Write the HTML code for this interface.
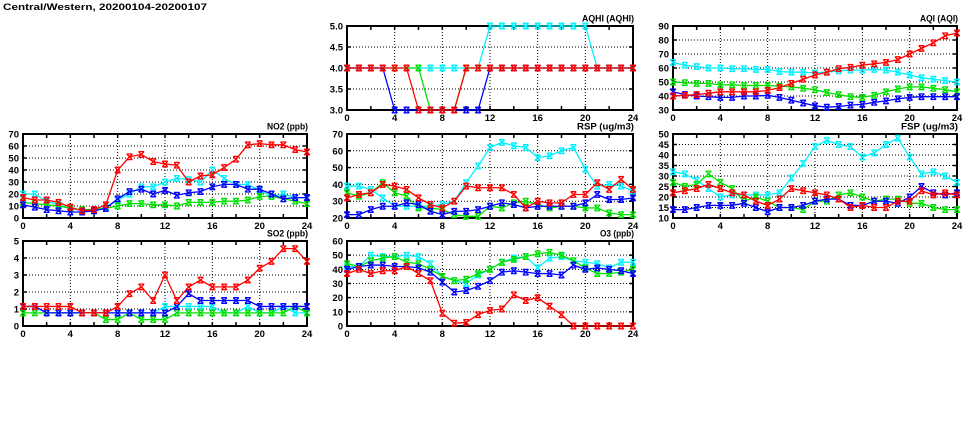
<!DOCTYPE html>
<html><head><meta charset="utf-8">
<style>
html,body{margin:0;padding:0;background:#fff;}
svg{display:block;}
text{font-family:"Liberation Sans",Arial,sans-serif;font-weight:bold;font-size:9.5px;fill:#000;}
.yl{text-anchor:end;}
.xl{text-anchor:middle;}
.tt{text-anchor:end;font-size:9.5px;}
.grid{fill:none;stroke:#000;stroke-width:1;stroke-dasharray:1 2;}
.frame{fill:none;stroke:#000;stroke-width:2;}
.tk{fill:none;stroke:#000;stroke-width:4;}
.ln{fill:none;stroke-width:1.3;vector-effect:non-scaling-stroke;stroke-linejoin:round;}
.mk{fill:none;stroke:none;}
.c{stroke:#00f0ff;} .g{stroke:#00e000;} .b{stroke:#0000ff;} .r{stroke:#ff0000;}
</style></head>
<body>
<svg width="975" height="447" viewBox="0 0 975 447" xmlns="http://www.w3.org/2000/svg">
<defs>
<!-- chart 1 AQHI -->
<marker id="m1c" markerUnits="userSpaceOnUse" markerWidth="0.6713" markerHeight="0.19048" viewBox="-4 -4 8 8" preserveAspectRatio="none" overflow="visible"><path d="M-2.8,-2.8L2.8,2.8M2.8,-2.8L-2.8,2.8M-2.8,-2.8H2.8M-2.8,2.8H2.8" stroke="#00f0ff" stroke-width="1.3" fill="none"/></marker>
<marker id="m1g" markerUnits="userSpaceOnUse" markerWidth="0.6713" markerHeight="0.19048" viewBox="-4 -4 8 8" preserveAspectRatio="none" overflow="visible"><path d="M-2.8,-2.8L2.8,2.8M2.8,-2.8L-2.8,2.8M-2.8,-2.8H2.8M-2.8,2.8H2.8" stroke="#00e000" stroke-width="1.3" fill="none"/></marker>
<marker id="m1b" markerUnits="userSpaceOnUse" markerWidth="0.6713" markerHeight="0.19048" viewBox="-4 -4 8 8" preserveAspectRatio="none" overflow="visible"><path d="M-2.8,-2.8L2.8,2.8M2.8,-2.8L-2.8,2.8M-2.8,-2.8H2.8M-2.8,2.8H2.8" stroke="#0000ff" stroke-width="1.3" fill="none"/></marker>
<marker id="m1r" markerUnits="userSpaceOnUse" markerWidth="0.6713" markerHeight="0.19048" viewBox="-4 -4 8 8" preserveAspectRatio="none" overflow="visible"><path d="M-2.8,-2.8L2.8,2.8M2.8,-2.8L-2.8,2.8M-2.8,-2.8H2.8M-2.8,2.8H2.8" stroke="#ff0000" stroke-width="1.3" fill="none"/></marker>
<!-- chart 2 AQI -->
<marker id="m2c" markerUnits="userSpaceOnUse" markerWidth="0.6761" markerHeight="5.7143" viewBox="-4 -4 8 8" preserveAspectRatio="none" overflow="visible"><path d="M-2.8,-2.8L2.8,2.8M2.8,-2.8L-2.8,2.8M-2.8,-2.8H2.8M-2.8,2.8H2.8" stroke="#00f0ff" stroke-width="1.3" fill="none"/></marker>
<marker id="m2g" markerUnits="userSpaceOnUse" markerWidth="0.6761" markerHeight="5.7143" viewBox="-4 -4 8 8" preserveAspectRatio="none" overflow="visible"><path d="M-2.8,-2.8L2.8,2.8M2.8,-2.8L-2.8,2.8M-2.8,-2.8H2.8M-2.8,2.8H2.8" stroke="#00e000" stroke-width="1.3" fill="none"/></marker>
<marker id="m2b" markerUnits="userSpaceOnUse" markerWidth="0.6761" markerHeight="5.7143" viewBox="-4 -4 8 8" preserveAspectRatio="none" overflow="visible"><path d="M-2.8,-2.8L2.8,2.8M2.8,-2.8L-2.8,2.8M-2.8,-2.8H2.8M-2.8,2.8H2.8" stroke="#0000ff" stroke-width="1.3" fill="none"/></marker>
<marker id="m2r" markerUnits="userSpaceOnUse" markerWidth="0.6761" markerHeight="5.7143" viewBox="-4 -4 8 8" preserveAspectRatio="none" overflow="visible"><path d="M-2.8,-2.8L2.8,2.8M2.8,-2.8L-2.8,2.8M-2.8,-2.8H2.8M-2.8,2.8H2.8" stroke="#ff0000" stroke-width="1.3" fill="none"/></marker>
<!-- chart 3 NO2 -->
<marker id="m3c" markerUnits="userSpaceOnUse" markerWidth="0.6761" markerHeight="6.6667" viewBox="-4 -4 8 8" preserveAspectRatio="none" overflow="visible"><path d="M-2.8,-2.8L2.8,2.8M2.8,-2.8L-2.8,2.8M-2.8,-2.8H2.8M-2.8,2.8H2.8" stroke="#00f0ff" stroke-width="1.3" fill="none"/></marker>
<marker id="m3g" markerUnits="userSpaceOnUse" markerWidth="0.6761" markerHeight="6.6667" viewBox="-4 -4 8 8" preserveAspectRatio="none" overflow="visible"><path d="M-2.8,-2.8L2.8,2.8M2.8,-2.8L-2.8,2.8M-2.8,-2.8H2.8M-2.8,2.8H2.8" stroke="#00e000" stroke-width="1.3" fill="none"/></marker>
<marker id="m3b" markerUnits="userSpaceOnUse" markerWidth="0.6761" markerHeight="6.6667" viewBox="-4 -4 8 8" preserveAspectRatio="none" overflow="visible"><path d="M-2.8,-2.8L2.8,2.8M2.8,-2.8L-2.8,2.8M-2.8,-2.8H2.8M-2.8,2.8H2.8" stroke="#0000ff" stroke-width="1.3" fill="none"/></marker>
<marker id="m3r" markerUnits="userSpaceOnUse" markerWidth="0.6761" markerHeight="6.6667" viewBox="-4 -4 8 8" preserveAspectRatio="none" overflow="visible"><path d="M-2.8,-2.8L2.8,2.8M2.8,-2.8L-2.8,2.8M-2.8,-2.8H2.8M-2.8,2.8H2.8" stroke="#ff0000" stroke-width="1.3" fill="none"/></marker>
<!-- chart 4 RSP -->
<marker id="m4c" markerUnits="userSpaceOnUse" markerWidth="0.6713" markerHeight="4.7619" viewBox="-4 -4 8 8" preserveAspectRatio="none" overflow="visible"><path d="M-2.8,-2.8L2.8,2.8M2.8,-2.8L-2.8,2.8M-2.8,-2.8H2.8M-2.8,2.8H2.8" stroke="#00f0ff" stroke-width="1.3" fill="none"/></marker>
<marker id="m4g" markerUnits="userSpaceOnUse" markerWidth="0.6713" markerHeight="4.7619" viewBox="-4 -4 8 8" preserveAspectRatio="none" overflow="visible"><path d="M-2.8,-2.8L2.8,2.8M2.8,-2.8L-2.8,2.8M-2.8,-2.8H2.8M-2.8,2.8H2.8" stroke="#00e000" stroke-width="1.3" fill="none"/></marker>
<marker id="m4b" markerUnits="userSpaceOnUse" markerWidth="0.6713" markerHeight="4.7619" viewBox="-4 -4 8 8" preserveAspectRatio="none" overflow="visible"><path d="M-2.8,-2.8L2.8,2.8M2.8,-2.8L-2.8,2.8M-2.8,-2.8H2.8M-2.8,2.8H2.8" stroke="#0000ff" stroke-width="1.3" fill="none"/></marker>
<marker id="m4r" markerUnits="userSpaceOnUse" markerWidth="0.6713" markerHeight="4.7619" viewBox="-4 -4 8 8" preserveAspectRatio="none" overflow="visible"><path d="M-2.8,-2.8L2.8,2.8M2.8,-2.8L-2.8,2.8M-2.8,-2.8H2.8M-2.8,2.8H2.8" stroke="#ff0000" stroke-width="1.3" fill="none"/></marker>
<!-- chart 5 FSP -->
<marker id="m5c" markerUnits="userSpaceOnUse" markerWidth="0.6761" markerHeight="3.8095" viewBox="-4 -4 8 8" preserveAspectRatio="none" overflow="visible"><path d="M-2.8,-2.8L2.8,2.8M2.8,-2.8L-2.8,2.8M-2.8,-2.8H2.8M-2.8,2.8H2.8" stroke="#00f0ff" stroke-width="1.3" fill="none"/></marker>
<marker id="m5g" markerUnits="userSpaceOnUse" markerWidth="0.6761" markerHeight="3.8095" viewBox="-4 -4 8 8" preserveAspectRatio="none" overflow="visible"><path d="M-2.8,-2.8L2.8,2.8M2.8,-2.8L-2.8,2.8M-2.8,-2.8H2.8M-2.8,2.8H2.8" stroke="#00e000" stroke-width="1.3" fill="none"/></marker>
<marker id="m5b" markerUnits="userSpaceOnUse" markerWidth="0.6761" markerHeight="3.8095" viewBox="-4 -4 8 8" preserveAspectRatio="none" overflow="visible"><path d="M-2.8,-2.8L2.8,2.8M2.8,-2.8L-2.8,2.8M-2.8,-2.8H2.8M-2.8,2.8H2.8" stroke="#0000ff" stroke-width="1.3" fill="none"/></marker>
<marker id="m5r" markerUnits="userSpaceOnUse" markerWidth="0.6761" markerHeight="3.8095" viewBox="-4 -4 8 8" preserveAspectRatio="none" overflow="visible"><path d="M-2.8,-2.8L2.8,2.8M2.8,-2.8L-2.8,2.8M-2.8,-2.8H2.8M-2.8,2.8H2.8" stroke="#ff0000" stroke-width="1.3" fill="none"/></marker>
<!-- chart 6 SO2 -->
<marker id="m6c" markerUnits="userSpaceOnUse" markerWidth="0.6761" markerHeight="0.47059" viewBox="-4 -4 8 8" preserveAspectRatio="none" overflow="visible"><path d="M-2.8,-2.8L2.8,2.8M2.8,-2.8L-2.8,2.8M-2.8,-2.8H2.8M-2.8,2.8H2.8" stroke="#00f0ff" stroke-width="1.3" fill="none"/></marker>
<marker id="m6g" markerUnits="userSpaceOnUse" markerWidth="0.6761" markerHeight="0.47059" viewBox="-4 -4 8 8" preserveAspectRatio="none" overflow="visible"><path d="M-2.8,-2.8L2.8,2.8M2.8,-2.8L-2.8,2.8M-2.8,-2.8H2.8M-2.8,2.8H2.8" stroke="#00e000" stroke-width="1.3" fill="none"/></marker>
<marker id="m6b" markerUnits="userSpaceOnUse" markerWidth="0.6761" markerHeight="0.47059" viewBox="-4 -4 8 8" preserveAspectRatio="none" overflow="visible"><path d="M-2.8,-2.8L2.8,2.8M2.8,-2.8L-2.8,2.8M-2.8,-2.8H2.8M-2.8,2.8H2.8" stroke="#0000ff" stroke-width="1.3" fill="none"/></marker>
<marker id="m6r" markerUnits="userSpaceOnUse" markerWidth="0.6761" markerHeight="0.47059" viewBox="-4 -4 8 8" preserveAspectRatio="none" overflow="visible"><path d="M-2.8,-2.8L2.8,2.8M2.8,-2.8L-2.8,2.8M-2.8,-2.8H2.8M-2.8,2.8H2.8" stroke="#ff0000" stroke-width="1.3" fill="none"/></marker>
<!-- chart 7 O3 -->
<marker id="m7c" markerUnits="userSpaceOnUse" markerWidth="0.6713" markerHeight="5.6471" viewBox="-4 -4 8 8" preserveAspectRatio="none" overflow="visible"><path d="M-2.8,-2.8L2.8,2.8M2.8,-2.8L-2.8,2.8M-2.8,-2.8H2.8M-2.8,2.8H2.8" stroke="#00f0ff" stroke-width="1.3" fill="none"/></marker>
<marker id="m7g" markerUnits="userSpaceOnUse" markerWidth="0.6713" markerHeight="5.6471" viewBox="-4 -4 8 8" preserveAspectRatio="none" overflow="visible"><path d="M-2.8,-2.8L2.8,2.8M2.8,-2.8L-2.8,2.8M-2.8,-2.8H2.8M-2.8,2.8H2.8" stroke="#00e000" stroke-width="1.3" fill="none"/></marker>
<marker id="m7b" markerUnits="userSpaceOnUse" markerWidth="0.6713" markerHeight="5.6471" viewBox="-4 -4 8 8" preserveAspectRatio="none" overflow="visible"><path d="M-2.8,-2.8L2.8,2.8M2.8,-2.8L-2.8,2.8M-2.8,-2.8H2.8M-2.8,2.8H2.8" stroke="#0000ff" stroke-width="1.3" fill="none"/></marker>
<marker id="m7r" markerUnits="userSpaceOnUse" markerWidth="0.6713" markerHeight="5.6471" viewBox="-4 -4 8 8" preserveAspectRatio="none" overflow="visible"><path d="M-2.8,-2.8L2.8,2.8M2.8,-2.8L-2.8,2.8M-2.8,-2.8H2.8M-2.8,2.8H2.8" stroke="#ff0000" stroke-width="1.3" fill="none"/></marker>
</defs>

<text x="3" y="10" font-size="9" textLength="204" lengthAdjust="spacingAndGlyphs">Central/Western, 20200104-20200107</text>

<!-- ============ CHART 1: AQHI ============ -->
<path class="grid" d="M347 89H633M347 68H633M347 47H633M394.67 26V110M442.33 26V110M490 26V110M537.67 26V110M585.33 26V110"/>
<rect class="frame" x="347" y="26" width="286" height="84"/>
<path class="tk" d="M346.25 108H633.75M346.25 28H633.75" stroke-dasharray="1.5 22.3333"/>
<path class="tk" d="M349 25.25V110.75M631 25.25V110.75" stroke-dasharray="1.5 19.5"/>
<text class="tt" x="634" y="21.5" textLength="52" lengthAdjust="spacingAndGlyphs">AQHI (AQHI)</text>
<text class="yl" x="343" y="29.5">5.0</text><text class="yl" x="343" y="50.5">4.5</text><text class="yl" x="343" y="71.5">4.0</text><text class="yl" x="343" y="92.5">3.5</text><text class="yl" x="343" y="113.5">3.0</text>
<text class="xl" x="347" y="121">0</text><text class="xl" x="394.67" y="121">4</text><text class="xl" x="442.33" y="121">8</text><text class="xl" x="490" y="121">12</text><text class="xl" x="537.67" y="121">16</text><text class="xl" x="585.33" y="121">20</text><text class="xl" x="633" y="121">24</text>
<g transform="translate(347,236) scale(11.91667,-42)">
<polyline class="ln c" points="0,4 1,4 2,4 3,4 4,4 5,4 6,4 7,4 8,4 9,4 10,4 11,4 12,5 13,5 14,5 15,5 16,5 17,5 18,5 19,5 20,5 21,4 22,4 23,4 24,4"/>
<polyline class="mk" style="marker:url(#m1c)" points="0,4 1,4 2,4 3,4 4,4 5,4 6,4 7,4 8,4 9,4 10,4 11,4 12,5 13,5 14,5 15,5 16,5 17,5 18,5 19,5 20,5 21,4 22,4 23,4 24,4"/>
<polyline class="ln g" points="0,4 1,4 2,4 3,4 4,4 5,4 6,4 7,3 8,3 9,3 10,4 11,4 12,4 13,4 14,4 15,4 16,4 17,4 18,4 19,4 20,4 21,4 22,4 23,4 24,4"/>
<polyline class="mk" style="marker:url(#m1g)" points="0,4 1,4 2,4 3,4 4,4 5,4 6,4 7,3 8,3 9,3 10,4 11,4 12,4 13,4 14,4 15,4 16,4 17,4 18,4 19,4 20,4 21,4 22,4 23,4 24,4"/>
<polyline class="ln b" points="0,4 1,4 2,4 3,4 4,3 5,3 6,3 7,3 8,3 9,3 10,3 11,3 12,4 13,4 14,4 15,4 16,4 17,4 18,4 19,4 20,4 21,4 22,4 23,4 24,4"/>
<polyline class="mk" style="marker:url(#m1b)" points="0,4 1,4 2,4 3,4 4,3 5,3 6,3 7,3 8,3 9,3 10,3 11,3 12,4 13,4 14,4 15,4 16,4 17,4 18,4 19,4 20,4 21,4 22,4 23,4 24,4"/>
<polyline class="ln r" points="0,4 1,4 2,4 3,4 4,4 5,4 6,3 7,3 8,3 9,3 10,4 11,4 12,4 13,4 14,4 15,4 16,4 17,4 18,4 19,4 20,4 21,4 22,4 23,4 24,4"/>
<polyline class="mk" style="marker:url(#m1r)" points="0,4 1,4 2,4 3,4 4,4 5,4 6,3 7,3 8,3 9,3 10,4 11,4 12,4 13,4 14,4 15,4 16,4 17,4 18,4 19,4 20,4 21,4 22,4 23,4 24,4"/>
</g>

<!-- ============ CHART 2: AQI ============ -->
<path class="grid" d="M673 96H957M673 82H957M673 68H957M673 54H957M673 40H957M720.33 26V110M767.67 26V110M815 26V110M862.33 26V110M909.67 26V110"/>
<rect class="frame" x="673" y="26" width="284" height="84"/>
<path class="tk" d="M672.25 108H957.75M672.25 28H957.75" stroke-dasharray="1.5 22.1667"/>
<path class="tk" d="M675 25.25V110.75M955 25.25V110.75" stroke-dasharray="1.5 12.5"/>
<text class="tt" x="958" y="21.5" textLength="38" lengthAdjust="spacingAndGlyphs">AQI (AQI)</text>
<text class="yl" x="669" y="29.5">90</text><text class="yl" x="669" y="43.5">80</text><text class="yl" x="669" y="57.5">70</text><text class="yl" x="669" y="71.5">60</text><text class="yl" x="669" y="85.5">50</text><text class="yl" x="669" y="99.5">40</text><text class="yl" x="669" y="113.5">30</text>
<text class="xl" x="673" y="121">0</text><text class="xl" x="720.33" y="121">4</text><text class="xl" x="767.67" y="121">8</text><text class="xl" x="815" y="121">12</text><text class="xl" x="862.33" y="121">16</text><text class="xl" x="909.67" y="121">20</text><text class="xl" x="957" y="121">24</text>
<g transform="translate(673,152) scale(11.83333,-1.4)">
<polyline class="ln c" points="0,64 1,62 2,61 3,60 4,60 5,59.5 6,59.5 7,59 8,59 9,57.5 10,57 11,57 12,56.5 13,57 14,58 15,58.5 16,58.5 17,59 18,58.5 19,57 20,55 21,53 22,52 23,51 24,50"/>
<polyline class="mk" style="marker:url(#m2c)" points="0,64 1,62 2,61 3,60 4,60 5,59.5 6,59.5 7,59 8,59 9,57.5 10,57 11,57 12,56.5 13,57 14,58 15,58.5 16,58.5 17,59 18,58.5 19,57 20,55 21,53 22,52 23,51 24,50"/>
<polyline class="ln g" points="0,50 1,49.5 2,49 3,49 4,48 5,48 6,47.5 7,47.5 8,47.5 9,47 10,46.5 11,45.5 12,44.5 13,42.5 14,41 15,39.5 16,39 17,40.5 18,43 19,45 20,46.5 21,46.5 22,45.5 23,44.5 24,43"/>
<polyline class="mk" style="marker:url(#m2g)" points="0,50 1,49.5 2,49 3,49 4,48 5,48 6,47.5 7,47.5 8,47.5 9,47 10,46.5 11,45.5 12,44.5 13,42.5 14,41 15,39.5 16,39 17,40.5 18,43 19,45 20,46.5 21,46.5 22,45.5 23,44.5 24,43"/>
<polyline class="ln b" points="0,43 1,41 2,40 3,39.5 4,39 5,39 6,40 7,40 8,40.5 9,39 10,37 11,35 12,33 13,32 14,32.5 15,33.5 16,34 17,35.5 18,36.5 19,38 20,39 21,39.5 22,39.5 23,39.5 24,39.5"/>
<polyline class="mk" style="marker:url(#m2b)" points="0,43 1,41 2,40 3,39.5 4,39 5,39 6,40 7,40 8,40.5 9,39 10,37 11,35 12,33 13,32 14,32.5 15,33.5 16,34 17,35.5 18,36.5 19,38 20,39 21,39.5 22,39.5 23,39.5 24,39.5"/>
<polyline class="ln r" points="0,40 1,40.5 2,41 3,42 4,43 5,43 6,43 7,43 8,44 9,46 10,49 11,52 12,55 13,57 14,59.5 15,60.5 16,62 17,63 18,64 19,66 20,70 21,74 22,78 23,83 24,85"/>
<polyline class="mk" style="marker:url(#m2r)" points="0,40 1,40.5 2,41 3,42 4,43 5,43 6,43 7,43 8,44 9,46 10,49 11,52 12,55 13,57 14,59.5 15,60.5 16,62 17,63 18,64 19,66 20,70 21,74 22,78 23,83 24,85"/>
</g>

<!-- ============ CHART 3: NO2 ============ -->
<path class="grid" d="M23 206H307M23 194H307M23 182H307M23 170H307M23 158H307M23 146H307M70.33 134V218M117.67 134V218M165 134V218M212.33 134V218M259.67 134V218"/>
<rect class="frame" x="23" y="134" width="284" height="84"/>
<path class="tk" d="M22.25 216H307.75M22.25 136H307.75" stroke-dasharray="1.5 22.1667"/>
<path class="tk" d="M25 133.25V218.75M305 133.25V218.75" stroke-dasharray="1.5 10.5"/>
<text class="tt" x="308" y="129.5" textLength="41" lengthAdjust="spacingAndGlyphs">NO2 (ppb)</text>
<text class="yl" x="19" y="137.5">70</text><text class="yl" x="19" y="149.5">60</text><text class="yl" x="19" y="161.5">50</text><text class="yl" x="19" y="173.5">40</text><text class="yl" x="19" y="185.5">30</text><text class="yl" x="19" y="197.5">20</text><text class="yl" x="19" y="209.5">10</text><text class="yl" x="19" y="221.5">0</text>
<text class="xl" x="23" y="229">0</text><text class="xl" x="70.33" y="229">4</text><text class="xl" x="117.67" y="229">8</text><text class="xl" x="165" y="229">12</text><text class="xl" x="212.33" y="229">16</text><text class="xl" x="259.67" y="229">20</text><text class="xl" x="307" y="229">24</text>
<g transform="translate(23,218) scale(11.83333,-1.2)">
<polyline class="ln c" points="0,20 1,20 2,14 3,11 4,8 5,6 6,6 7,9 8,15 9,20 10,26 11,26 12,30 13,33 14,32 15,30 16,40 17,33 18,28 19,28 20,23 21,18 22,20 23,17 24,17"/>
<polyline class="mk" style="marker:url(#m3c)" points="0,20 1,20 2,14 3,11 4,8 5,6 6,6 7,9 8,15 9,20 10,26 11,26 12,30 13,33 14,32 15,30 16,40 17,33 18,28 19,28 20,23 21,18 22,20 23,17 24,17"/>
<polyline class="ln g" points="0,13 1,12 2,11 3,10 4,8 5,7 6,7 7,8 8,10 9,12 10,12 11,11 12,11 13,10 14,13 15,13 16,13 17,14 18,14 19,15 20,18 21,18 22,16 23,14 24,12"/>
<polyline class="mk" style="marker:url(#m3g)" points="0,13 1,12 2,11 3,10 4,8 5,7 6,7 7,8 8,10 9,12 10,12 11,11 12,11 13,10 14,13 15,13 16,13 17,14 18,14 19,15 20,18 21,18 22,16 23,14 24,12"/>
<polyline class="ln b" points="0,11 1,9 2,7 3,6 4,5 5,5 6,6 7,8 8,16 9,22 10,24 11,20 12,23 13,19 14,21 15,22 16,26 17,28 18,28 19,24 20,24 21,20 22,16 23,17 24,17"/>
<polyline class="mk" style="marker:url(#m3b)" points="0,11 1,9 2,7 3,6 4,5 5,5 6,6 7,8 8,16 9,22 10,24 11,20 12,23 13,19 14,21 15,22 16,26 17,28 18,28 19,24 20,24 21,20 22,16 23,17 24,17"/>
<polyline class="ln r" points="0,17 1,15 2,15 3,13 4,9 5,6 6,7 7,11 8,40 9,51 10,53 11,47 12,45 13,44 14,30 15,35 16,36 17,42 18,49 19,61 20,62 21,61 22,61 23,57 24,55"/>
<polyline class="mk" style="marker:url(#m3r)" points="0,17 1,15 2,15 3,13 4,9 5,6 6,7 7,11 8,40 9,51 10,53 11,47 12,45 13,44 14,30 15,35 16,36 17,42 18,49 19,61 20,62 21,61 22,61 23,57 24,55"/>
</g>

<!-- ============ CHART 4: RSP ============ -->
<path class="grid" d="M347 201.2H633M347 184.4H633M347 167.6H633M347 150.8H633M394.67 134V218M442.33 134V218M490 134V218M537.67 134V218M585.33 134V218"/>
<rect class="frame" x="347" y="134" width="286" height="84"/>
<path class="tk" d="M346.25 216H633.75M346.25 136H633.75" stroke-dasharray="1.5 22.3333"/>
<path class="tk" d="M349 133.25V218.75M631 133.25V218.75" stroke-dasharray="1.5 15.3"/>
<text class="tt" x="634" y="129.5" textLength="57" lengthAdjust="spacingAndGlyphs">RSP (ug/m3)</text>
<text class="yl" x="343" y="137.5">70</text><text class="yl" x="343" y="154.3">60</text><text class="yl" x="343" y="171.1">50</text><text class="yl" x="343" y="187.9">40</text><text class="yl" x="343" y="204.7">30</text><text class="yl" x="343" y="221.5">20</text>
<text class="xl" x="347" y="229">0</text><text class="xl" x="394.67" y="229">4</text><text class="xl" x="442.33" y="229">8</text><text class="xl" x="490" y="229">12</text><text class="xl" x="537.67" y="229">16</text><text class="xl" x="585.33" y="229">20</text><text class="xl" x="633" y="229">24</text>
<g transform="translate(347,251.6) scale(11.91667,-1.68)">
<polyline class="ln c" points="0,39 1,39 2,37 3,32 4,27 5,27 6,27 7,27 8,28 9,30 10,41 11,51 12,62 13,65 14,63 15,62 16,56 17,57 18,60 19,62 20,49 21,39 22,40 23,39 24,36"/>
<polyline class="mk" style="marker:url(#m4c)" points="0,39 1,39 2,37 3,32 4,27 5,27 6,27 7,27 8,28 9,30 10,41 11,51 12,62 13,65 14,63 15,62 16,56 17,57 18,60 19,62 20,49 21,39 22,40 23,39 24,36"/>
<polyline class="ln g" points="0,35 1,33 2,35 3,41 4,35 5,33 6,26 7,26 8,25 9,22 10,21 11,21 12,27 13,26 14,29 15,30 16,28 17,26 18,27 19,27 20,26 21,26 22,23 23,22 24,22"/>
<polyline class="mk" style="marker:url(#m4g)" points="0,35 1,33 2,35 3,41 4,35 5,33 6,26 7,26 8,25 9,22 10,21 11,21 12,27 13,26 14,29 15,30 16,28 17,26 18,27 19,27 20,26 21,26 22,23 23,22 24,22"/>
<polyline class="ln b" points="0,22 1,22 2,25 3,27 4,27 5,29 6,28 7,24 8,22 9,24 10,24 11,25 12,27 13,29 14,28 15,26 16,27 17,27 18,27 19,27 20,29 21,34 22,31 23,31 24,32"/>
<polyline class="mk" style="marker:url(#m4b)" points="0,22 1,22 2,25 3,27 4,27 5,29 6,28 7,24 8,22 9,24 10,24 11,25 12,27 13,29 14,28 15,26 16,27 17,27 18,27 19,27 20,29 21,34 22,31 23,31 24,32"/>
<polyline class="ln r" points="0,32 1,34 2,35 3,40 4,39 5,37 6,32 7,28 8,26 9,30 10,39 11,38 12,38 13,38 14,34 15,26 16,30 17,29 18,29 19,34 20,34 21,41 22,37 23,43 24,37"/>
<polyline class="mk" style="marker:url(#m4r)" points="0,32 1,34 2,35 3,40 4,39 5,37 6,32 7,28 8,26 9,30 10,39 11,38 12,38 13,38 14,34 15,26 16,30 17,29 18,29 19,34 20,34 21,41 22,37 23,43 24,37"/>
</g>

<!-- ============ CHART 5: FSP ============ -->
<path class="grid" d="M673 207.5H957M673 197H957M673 186.5H957M673 176H957M673 165.5H957M673 155H957M673 144.5H957M720.33 134V218M767.67 134V218M815 134V218M862.33 134V218M909.67 134V218"/>
<rect class="frame" x="673" y="134" width="284" height="84"/>
<path class="tk" d="M672.25 216H957.75M672.25 136H957.75" stroke-dasharray="1.5 22.1667"/>
<path class="tk" d="M675 133.25V218.75M955 133.25V218.75" stroke-dasharray="1.5 9"/>
<text class="tt" x="958" y="129.5" textLength="57" lengthAdjust="spacingAndGlyphs">FSP (ug/m3)</text>
<text class="yl" x="669" y="137.5">50</text><text class="yl" x="669" y="148">45</text><text class="yl" x="669" y="158.5">40</text><text class="yl" x="669" y="169">35</text><text class="yl" x="669" y="179.5">30</text><text class="yl" x="669" y="190">25</text><text class="yl" x="669" y="200.5">20</text><text class="yl" x="669" y="211">15</text><text class="yl" x="669" y="221.5">10</text>
<text class="xl" x="673" y="229">0</text><text class="xl" x="720.33" y="229">4</text><text class="xl" x="767.67" y="229">8</text><text class="xl" x="815" y="229">12</text><text class="xl" x="862.33" y="229">16</text><text class="xl" x="909.67" y="229">20</text><text class="xl" x="957" y="229">24</text>
<g transform="translate(673,239) scale(11.83333,-2.1)">
<polyline class="ln c" points="0,32 1,31 2,28 3,24 4,20 5,21 6,21 7,21 8,21 9,22 10,29 11,36 12,44 13,47 14,45 15,44 16,39 17,41 18,45 19,48 20,39 21,31 22,32 23,30 24,27"/>
<polyline class="mk" style="marker:url(#m5c)" points="0,32 1,31 2,28 3,24 4,20 5,21 6,21 7,21 8,21 9,22 10,29 11,36 12,44 13,47 14,45 15,44 16,39 17,41 18,45 19,48 20,39 21,31 22,32 23,30 24,27"/>
<polyline class="ln g" points="0,27 1,25 2,26 3,31 4,27 5,24 6,18 7,20 8,18 9,15 10,15 11,14 12,18 13,18 14,21 15,22 16,20 17,18 18,19 19,19 20,17 21,17 22,15 23,14 24,14"/>
<polyline class="mk" style="marker:url(#m5g)" points="0,27 1,25 2,26 3,31 4,27 5,24 6,18 7,20 8,18 9,15 10,15 11,14 12,18 13,18 14,21 15,22 16,20 17,18 18,19 19,19 20,17 21,17 22,15 23,14 24,14"/>
<polyline class="ln b" points="0,14 1,14 2,15 3,16 4,16 5,16 6,17 7,15 8,13 9,15 10,15 11,16 12,18 13,19 14,19 15,16 16,16 17,18 18,18 19,17 20,20 21,25 22,22 23,21 24,22"/>
<polyline class="mk" style="marker:url(#m5b)" points="0,14 1,14 2,15 3,16 4,16 5,16 6,17 7,15 8,13 9,15 10,15 11,16 12,18 13,19 14,19 15,16 16,16 17,18 18,18 19,17 20,20 21,25 22,22 23,21 24,22"/>
<polyline class="ln r" points="0,22 1,23 2,24 3,26 4,24 5,22 6,21 7,18 8,16 9,19 10,24 11,23 12,22 13,21 14,19 15,15 16,16 17,15 18,15 19,18 20,18 21,23 22,21 23,22 24,21"/>
<polyline class="mk" style="marker:url(#m5r)" points="0,22 1,23 2,24 3,26 4,24 5,22 6,21 7,18 8,16 9,19 10,24 11,23 12,22 13,21 14,19 15,15 16,16 17,15 18,15 19,18 20,18 21,23 22,21 23,22 24,21"/>
</g>

<!-- ============ CHART 6: SO2 ============ -->
<path class="grid" d="M23 309H307M23 292H307M23 275H307M23 258H307M70.33 241V326M117.67 241V326M165 241V326M212.33 241V326M259.67 241V326"/>
<rect class="frame" x="23" y="241" width="284" height="85"/>
<path class="tk" d="M22.25 324H307.75M22.25 243H307.75" stroke-dasharray="1.5 22.1667"/>
<path class="tk" d="M25 240.25V326.75M305 240.25V326.75" stroke-dasharray="1.5 15.5"/>
<text class="tt" x="308" y="236.5" textLength="41" lengthAdjust="spacingAndGlyphs">SO2 (ppb)</text>
<text class="yl" x="19" y="244.5">5</text><text class="yl" x="19" y="261.5">4</text><text class="yl" x="19" y="278.5">3</text><text class="yl" x="19" y="295.5">2</text><text class="yl" x="19" y="312.5">1</text><text class="yl" x="19" y="329.5">0</text>
<text class="xl" x="23" y="337">0</text><text class="xl" x="70.33" y="337">4</text><text class="xl" x="117.67" y="337">8</text><text class="xl" x="165" y="337">12</text><text class="xl" x="212.33" y="337">16</text><text class="xl" x="259.67" y="337">20</text><text class="xl" x="307" y="337">24</text>
<g transform="translate(23,326) scale(11.83333,-17)">
<polyline class="ln c" points="0,1.15 1,1.15 2,0.77 3,0.77 4,0.77 5,0.77 6,0.77 7,0.77 8,0.77 9,0.77 10,0.77 11,0.77 12,1.15 13,1.15 14,1.15 15,1.15 16,1.15 17,0.77 18,0.77 19,1.15 20,0.77 21,0.77 22,1.15 23,0.77 24,0.77"/>
<polyline class="mk" style="marker:url(#m6c)" points="0,1.15 1,1.15 2,0.77 3,0.77 4,0.77 5,0.77 6,0.77 7,0.77 8,0.77 9,0.77 10,0.77 11,0.77 12,1.15 13,1.15 14,1.15 15,1.15 16,1.15 17,0.77 18,0.77 19,1.15 20,0.77 21,0.77 22,1.15 23,0.77 24,0.77"/>
<polyline class="ln g" points="0,0.77 1,0.77 2,0.77 3,0.77 4,0.77 5,0.77 6,0.77 7,0.38 8,0.38 9,0.77 10,0.38 11,0.38 12,0.38 13,0.77 14,0.77 15,0.77 16,0.77 17,0.77 18,0.77 19,0.77 20,0.77 21,0.77 22,0.77 23,1.15 24,0.77"/>
<polyline class="mk" style="marker:url(#m6g)" points="0,0.77 1,0.77 2,0.77 3,0.77 4,0.77 5,0.77 6,0.77 7,0.38 8,0.38 9,0.77 10,0.38 11,0.38 12,0.38 13,0.77 14,0.77 15,0.77 16,0.77 17,0.77 18,0.77 19,0.77 20,0.77 21,0.77 22,0.77 23,1.15 24,0.77"/>
<polyline class="ln b" points="0,1.15 1,1.15 2,0.77 3,0.77 4,0.77 5,0.77 6,0.77 7,0.77 8,0.77 9,0.77 10,0.77 11,0.77 12,0.77 13,1.15 14,1.9 15,1.5 16,1.5 17,1.5 18,1.5 19,1.5 20,1.15 21,1.15 22,1.15 23,1.15 24,1.15"/>
<polyline class="mk" style="marker:url(#m6b)" points="0,1.15 1,1.15 2,0.77 3,0.77 4,0.77 5,0.77 6,0.77 7,0.77 8,0.77 9,0.77 10,0.77 11,0.77 12,0.77 13,1.15 14,1.9 15,1.5 16,1.5 17,1.5 18,1.5 19,1.5 20,1.15 21,1.15 22,1.15 23,1.15 24,1.15"/>
<polyline class="ln r" points="0,1.15 1,1.15 2,1.15 3,1.15 4,1.15 5,0.77 6,0.77 7,0.77 8,1.15 9,1.9 10,2.3 11,1.5 12,3 13,1.5 14,2.3 15,2.7 16,2.3 17,2.3 18,2.3 19,2.7 20,3.4 21,3.8 22,4.55 23,4.55 24,3.8"/>
<polyline class="mk" style="marker:url(#m6r)" points="0,1.15 1,1.15 2,1.15 3,1.15 4,1.15 5,0.77 6,0.77 7,0.77 8,1.15 9,1.9 10,2.3 11,1.5 12,3 13,1.5 14,2.3 15,2.7 16,2.3 17,2.3 18,2.3 19,2.7 20,3.4 21,3.8 22,4.55 23,4.55 24,3.8"/>
</g>

<!-- ============ CHART 7: O3 ============ -->
<path class="grid" d="M347 311.83H633M347 297.67H633M347 283.5H633M347 269.33H633M347 255.17H633M394.67 241V326M442.33 241V326M490 241V326M537.67 241V326M585.33 241V326"/>
<rect class="frame" x="347" y="241" width="286" height="85"/>
<path class="tk" d="M346.25 324H633.75M346.25 243H633.75" stroke-dasharray="1.5 22.3333"/>
<path class="tk" d="M349 240.25V326.75M631 240.25V326.75" stroke-dasharray="1.5 12.6667"/>
<text class="tt" x="634" y="236.5" textLength="34" lengthAdjust="spacingAndGlyphs">O3 (ppb)</text>
<text class="yl" x="343" y="244.5">60</text><text class="yl" x="343" y="258.67">50</text><text class="yl" x="343" y="272.83">40</text><text class="yl" x="343" y="287">30</text><text class="yl" x="343" y="301.17">20</text><text class="yl" x="343" y="315.33">10</text><text class="yl" x="343" y="329.5">0</text>
<text class="xl" x="347" y="337">0</text><text class="xl" x="394.67" y="337">4</text><text class="xl" x="442.33" y="337">8</text><text class="xl" x="490" y="337">12</text><text class="xl" x="537.67" y="337">16</text><text class="xl" x="585.33" y="337">20</text><text class="xl" x="633" y="337">24</text>
<g transform="translate(347,326) scale(11.91667,-1.416667)">
<polyline class="ln c" points="0,42 1,42 2,50 3,49 4,49 5,50 6,49 7,44 8,35 9,32 10,30 11,36 12,40 13,45 14,48 15,49 16,41 17,48 18,49 19,46 20,45 21,44 22,41 23,45 24,45"/>
<polyline class="mk" style="marker:url(#m7c)" points="0,42 1,42 2,50 3,49 4,49 5,50 6,49 7,44 8,35 9,32 10,30 11,36 12,40 13,45 14,48 15,49 16,41 17,48 18,49 19,46 20,45 21,44 22,41 23,45 24,45"/>
<polyline class="ln g" points="0,44 1,42 2,46 3,48 4,49 5,45 6,44 7,40 8,35 9,32 10,33 11,37 12,40 13,45 14,47 15,49 16,51 17,52 18,50 19,46 20,41 21,37 22,37 23,38 24,40"/>
<polyline class="mk" style="marker:url(#m7g)" points="0,44 1,42 2,46 3,48 4,49 5,45 6,44 7,40 8,35 9,32 10,33 11,37 12,40 13,45 14,47 15,49 16,51 17,52 18,50 19,46 20,41 21,37 22,37 23,38 24,40"/>
<polyline class="ln b" points="0,40 1,42 2,43 3,43 4,42 5,42 6,41 7,38 8,31 9,24 10,25 11,28 12,32 13,38 14,39 15,38 16,37 17,37 18,36 19,43 20,40 21,41 22,40 23,39 24,37"/>
<polyline class="mk" style="marker:url(#m7b)" points="0,40 1,42 2,43 3,43 4,42 5,42 6,41 7,38 8,31 9,24 10,25 11,28 12,32 13,38 14,39 15,38 16,37 17,37 18,36 19,43 20,40 21,41 22,40 23,39 24,37"/>
<polyline class="ln r" points="0,37 1,40 2,37 3,39 4,39 5,42 6,37 7,32 8,9 9,2 10,2.5 11,8 12,11 13,12 14,22 15,18 16,20 17,14 18,8 19,0 20,0 21,0 22,0 23,0 24,0"/>
<polyline class="mk" style="marker:url(#m7r)" points="0,37 1,40 2,37 3,39 4,39 5,42 6,37 7,32 8,9 9,2 10,2.5 11,8 12,11 13,12 14,22 15,18 16,20 17,14 18,8 19,0 20,0 21,0 22,0 23,0 24,0"/>
</g>
</svg>
</body></html>
